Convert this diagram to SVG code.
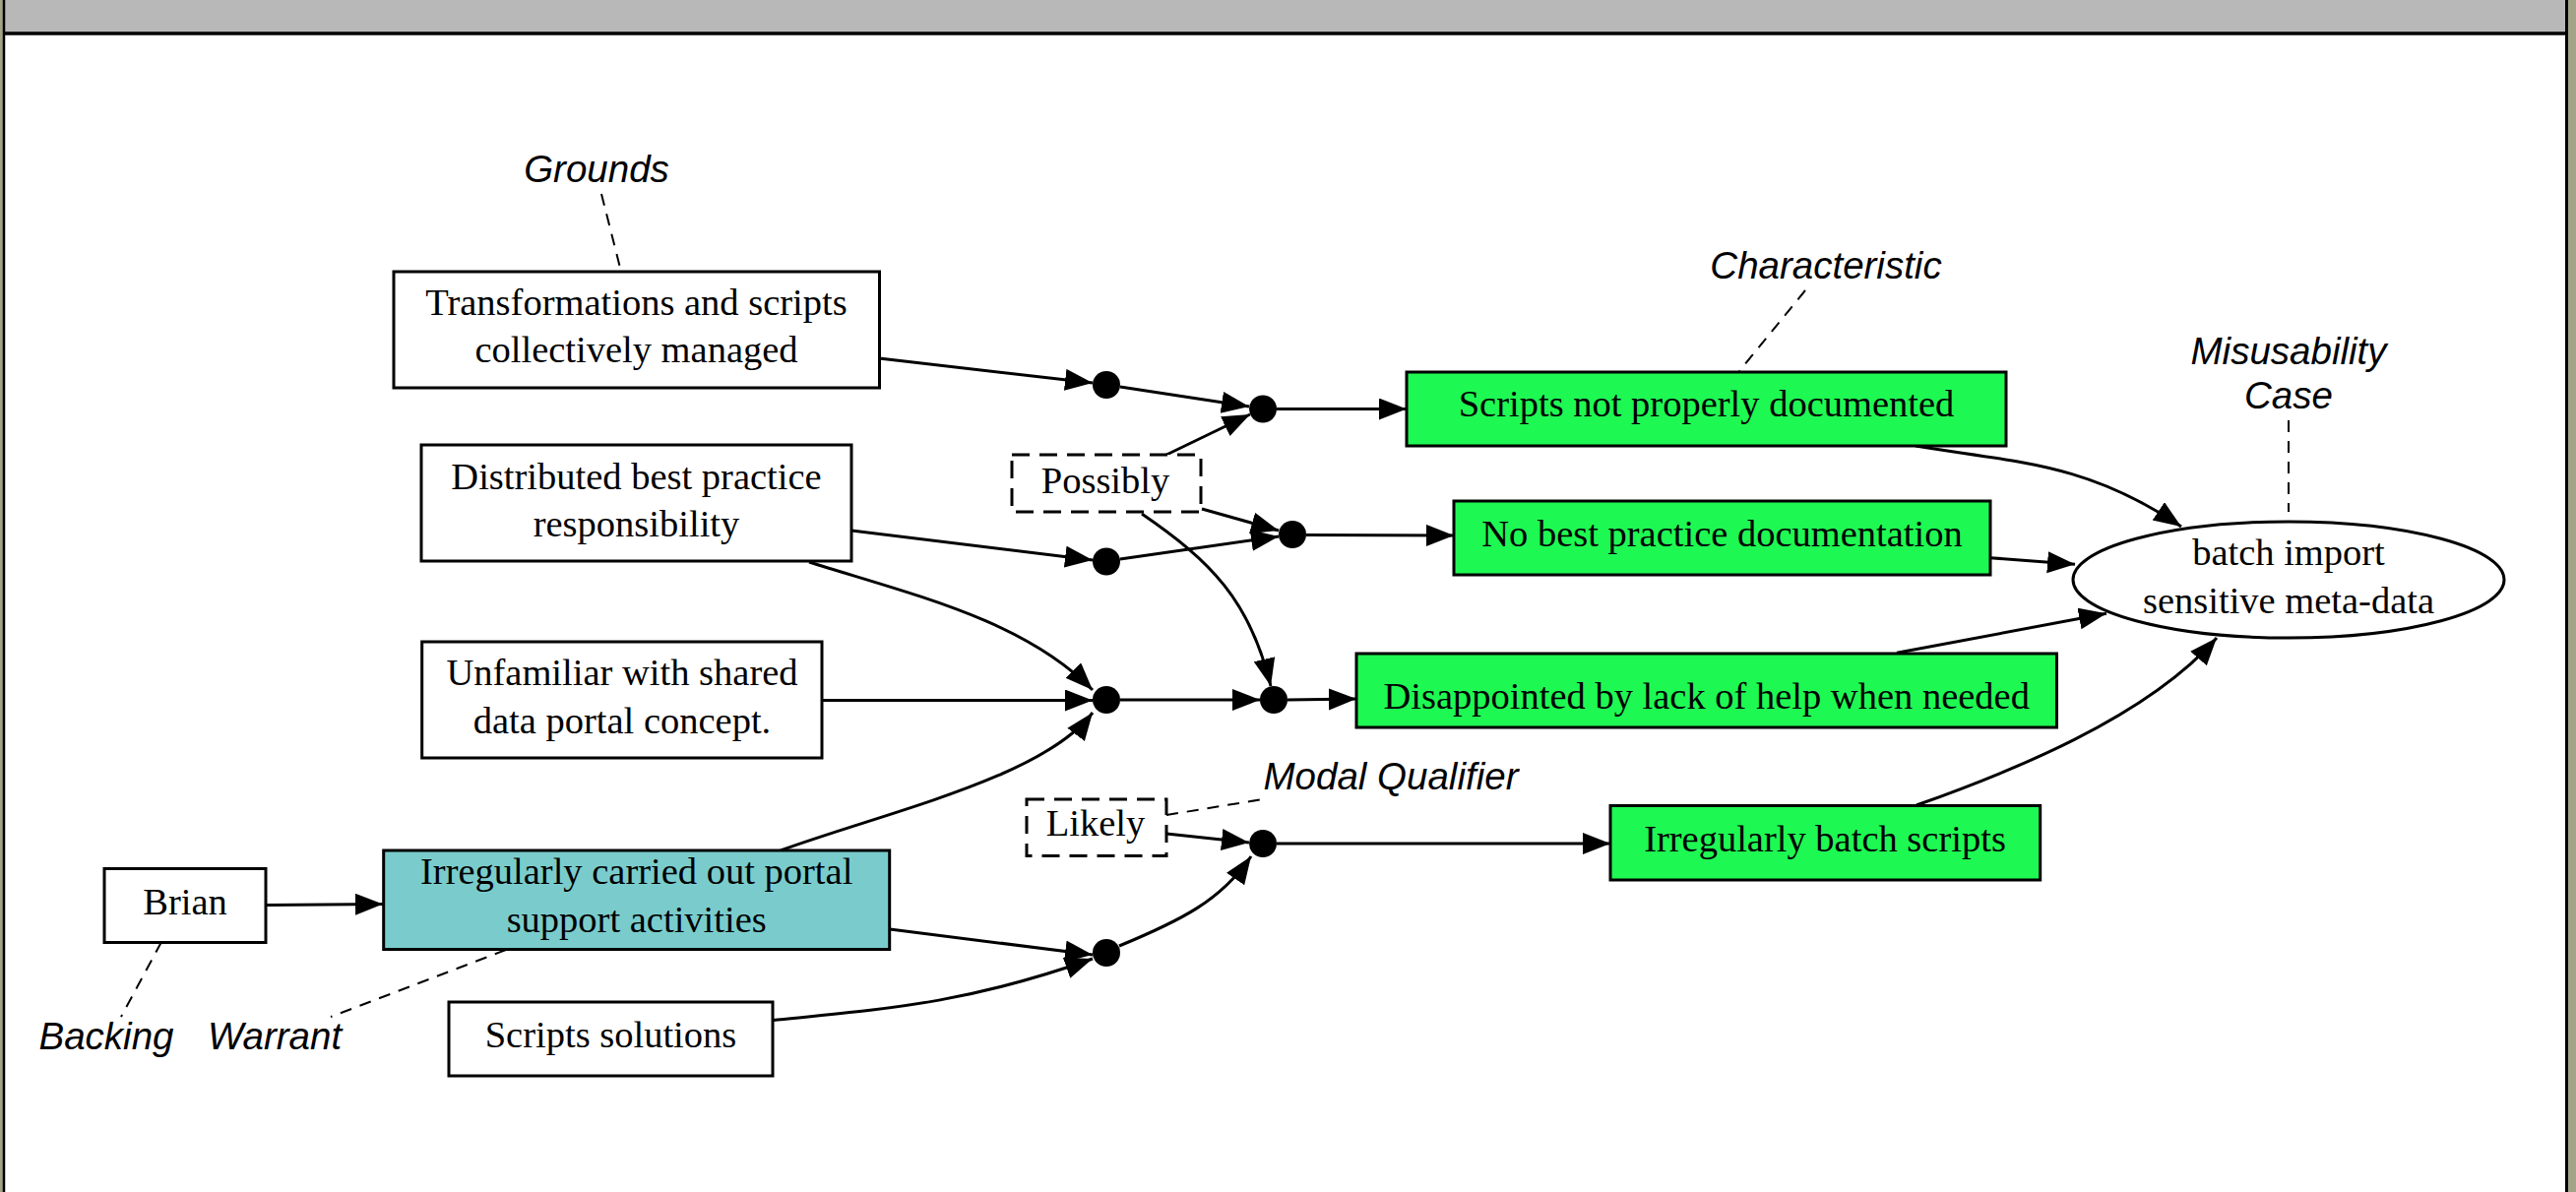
<svg xmlns="http://www.w3.org/2000/svg" width="2617" height="1211" viewBox="0 0 2617 1211">
<defs>
<marker id="ah" markerUnits="userSpaceOnUse" markerWidth="30" markerHeight="24" refX="28" refY="11" orient="auto">
<path d="M0,0 L28,11 L0,22 z" fill="#000"/>
</marker>
<style>
.box{stroke:#000;stroke-width:3}
.plain{fill:#fff}
.green{fill:#1EF852}
.teal{fill:#7ACCCC}
.dash{fill:#fff;stroke:#000;stroke-width:3;stroke-dasharray:18 10}
.t{font-family:"Liberation Serif","Times New Roman",serif;font-size:38.5px;fill:#000;text-anchor:middle}
.lbl{font-family:"Liberation Sans",Arial,sans-serif;font-style:italic;font-size:38.5px;fill:#000;text-anchor:middle}
.e{fill:none;stroke:#000;stroke-width:3;marker-end:url(#ah)}
.a{fill:none;stroke:#000;stroke-width:2;stroke-dasharray:12 9}
.dot{fill:#000}
</style>
</defs>
<rect x="0" y="0" width="2617" height="1211" fill="#A3A388"/>
<rect x="4" y="0" width="2604" height="1211" fill="#fff"/>
<rect x="4" y="0" width="2604" height="33" fill="#B8B8B8"/>
<line x1="4" y1="34" x2="2608" y2="34" stroke="#000" stroke-width="3.5"/>
<line x1="4" y1="0" x2="4" y2="1211" stroke="#000" stroke-width="2.5"/>
<line x1="2607.5" y1="0" x2="2607.5" y2="1211" stroke="#000" stroke-width="3"/>

<g id="annotations">
<text class="lbl" x="606" y="185">Grounds</text>
<text class="lbl" x="1855" y="283">Characteristic</text>
<text class="lbl" x="2325" y="370">Misusability</text>
<text class="lbl" x="2325" y="415">Case</text>
<text class="lbl" x="1413" y="802">Modal Qualifier</text>
<text class="lbl" x="108" y="1066">Backing</text>
<text class="lbl" x="279" y="1066">Warrant</text>
<path class="a" d="M611,197 L631,276"/>
<path class="a" d="M1834,295 L1767,377"/>
<path class="a" d="M2325,427 L2325,520"/>
<path class="a" d="M1185,828 L1283,812"/>
<path class="a" d="M164,957 L123,1033"/>
<path class="a" d="M514,965 L336,1033"/>
</g>

<g id="connectors">
<path class="e" d="M893,364 L1110,389"/>
<path class="e" d="M1138,393 L1269,413"/>
<path class="e" d="M1185,462 L1270,421"/>
<path class="e" d="M1297,415.5 L1429,415.5"/>
<path class="e" d="M865,539 L1110,569"/>
<path class="e" d="M1138,568 L1299,545"/>
<path class="e" d="M1221,517 L1299,539"/>
<path class="e" d="M1327,543.5 L1477,544"/>
<path class="e" d="M822,571 C930,605 1040,630 1110,701"/>
<path class="e" d="M835,711.5 L1110,711.5"/>
<path class="e" d="M793,864 C900,825 1060,790 1110,724"/>
<path class="e" d="M1160,522 C1230,570 1270,610 1291,697"/>
<path class="e" d="M1138,711 L1280,711"/>
<path class="e" d="M1308,711 L1378,710"/>
<path class="e" d="M270,919.6 L389,918.5"/>
<path class="e" d="M904,944 L1110,970"/>
<path class="e" d="M785,1036.5 C900,1025 980,1020 1110,974"/>
<path class="e" d="M1185,847 L1269,856"/>
<path class="e" d="M1137,961 C1200,935 1240,915 1271,870"/>
<path class="e" d="M1297,857 L1636,857"/>
<path class="e" d="M1946,453 C2050,470 2120,470 2216,535"/>
<path class="e" d="M2022,566.7 L2108,573.3"/>
<path class="e" d="M1927,663.3 L2140,623.3"/>
<path class="e" d="M1947,818 C2040,785 2180,730 2252,648"/>
</g>

<g id="junctions">
<circle class="dot" cx="1124" cy="391" r="14"/>
<circle class="dot" cx="1283" cy="415.5" r="14"/>
<circle class="dot" cx="1313" cy="543" r="14"/>
<circle class="dot" cx="1124" cy="570.5" r="14"/>
<circle class="dot" cx="1124" cy="711" r="14"/>
<circle class="dot" cx="1294" cy="711" r="14"/>
<circle class="dot" cx="1283" cy="857" r="14"/>
<circle class="dot" cx="1124" cy="968" r="14"/>
</g>

<g id="n-transformations"><rect class="box plain" x="400" y="276" width="493.5" height="118"/>
<text class="t" x="646.5" y="320">Transformations and scripts</text>
<text class="t" x="646.5" y="368">collectively managed</text></g>

<g id="n-distributed"><rect class="box plain" x="428" y="452" width="437" height="118"/>
<text class="t" x="646.5" y="497">Distributed best practice</text>
<text class="t" x="646.5" y="545">responsibility</text></g>

<g id="n-unfamiliar"><rect class="box plain" x="428.7" y="652" width="406.3" height="118"/>
<text class="t" x="632" y="695.5">Unfamiliar with shared</text>
<text class="t" x="632" y="745">data portal concept.</text></g>

<g id="n-brian"><rect class="box plain" x="106" y="882.5" width="164" height="75"/>
<text class="t" x="188" y="929">Brian</text></g>

<g id="n-irregular-support"><rect class="box teal" x="389.7" y="864" width="514" height="100.5"/>
<text class="t" x="646.7" y="898">Irregularly carried out portal</text>
<text class="t" x="646.7" y="947">support activities</text></g>

<g id="n-scripts-solutions"><rect class="box plain" x="456" y="1018" width="329" height="75"/>
<text class="t" x="620.5" y="1064">Scripts solutions</text></g>

<g id="n-possibly"><rect class="dash" x="1028" y="462" width="192" height="58"/>
<text class="t" x="1123" y="501">Possibly</text></g>

<g id="n-likely"><rect class="dash" x="1043" y="812" width="142" height="57.5"/>
<text class="t" x="1113" y="849">Likely</text></g>

<g id="n-scripts-not-documented"><rect class="box green" x="1429" y="378" width="609" height="75"/>
<text class="t" x="1733.5" y="423">Scripts not properly documented</text></g>

<g id="n-no-best-practice"><rect class="box green" x="1477" y="509" width="545" height="75"/>
<text class="t" x="1749.5" y="555">No best practice documentation</text></g>

<g id="n-disappointed"><rect class="box green" x="1378" y="664" width="711.5" height="75"/>
<text class="t" x="1733.7" y="720">Disappointed by lack of help when needed</text></g>

<g id="n-batch-scripts"><rect class="box green" x="1636" y="818.5" width="436.7" height="75.5"/>
<text class="t" x="1854" y="865">Irregularly batch scripts</text></g>

<g id="n-misusability-case"><ellipse cx="2325" cy="589" rx="219" ry="59" fill="#fff" stroke="#000" stroke-width="3"/>
<text class="t" x="2325" y="574">batch import</text>
<text class="t" x="2325" y="623">sensitive meta-data</text></g>
</svg>
